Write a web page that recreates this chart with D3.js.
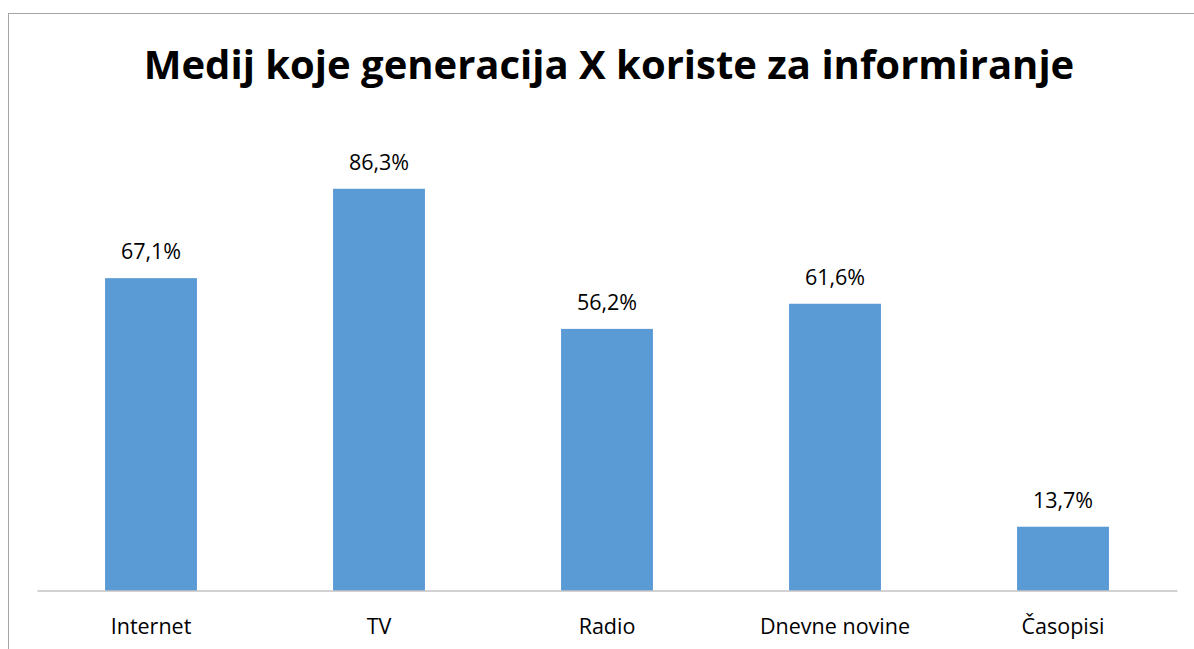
<!DOCTYPE html>
<html>
<head>
<meta charset="utf-8">
<script src="https://cdn.jsdelivr.net/npm/d3@7"></script>
<style>
  html, body { margin: 0; padding: 0; background: #fff; }
  svg { display: block; }
</style>
</head>
<body>
<script>
const categories = ["Internet", "TV", "Radio", "Dnevne novine", "Časopisi"];
const values = [67.1, 86.3, 56.2, 61.6, 13.7];
const valueLabels = ["67,1%", "86,3%", "56,2%", "61,6%", "13,7%"];
const titleText = "Medij koje generacija X koriste za informiranje";

const W = 1194, H = 649;
const svg = d3.select("body").append("svg").attr("width", W).attr("height", H);

// chart frame (clipped at right/bottom as in reference)
svg.append("rect")
  .attr("x", 8.5).attr("y", 13.5)
  .attr("width", 1220).attr("height", 700)
  .attr("fill", "none").attr("stroke", "#A6A6A6").attr("stroke-width", 1);

const plot = { left: 37, right: 1177, top: 125, bottom: 590.5 };

const x = d3.scaleBand().domain(categories).range([plot.left, plot.right]).paddingInner(0.597).paddingOuter(0.2985);
const y = d3.scaleLinear().domain([0, 100]).range([plot.bottom, plot.top]);

svg.append("text")
  .attr("x", 609).attr("y", 79)
  .attr("text-anchor", "middle")
  .attr("font-family", "'Open Sans', sans-serif")
  .attr("font-weight", "bold")
  .attr("font-size", 40)
  .attr("fill", "#000")
  .text(titleText);

svg.selectAll("rect.bar").data(values).enter().append("rect")
  .attr("class", "bar")
  .attr("x", (d, i) => x(categories[i]))
  .attr("width", x.bandwidth())
  .attr("y", d => y(d))
  .attr("height", d => y(0) - y(d))
  .attr("fill", "#5B9BD5");

svg.selectAll("text.val").data(values).enter().append("text")
  .attr("class", "val")
  .attr("x", (d, i) => x(categories[i]) + x.bandwidth() / 2)
  .attr("y", d => y(d) - 19)
  .attr("text-anchor", "middle")
  .attr("font-family", "'Open Sans', sans-serif")
  .attr("font-size", 21.5)
  .attr("fill", "#000")
  .text((d, i) => valueLabels[i]);

const axis = d3.axisBottom(x).tickSize(0).tickPadding(0);
const g = svg.append("g").attr("transform", `translate(0,${plot.bottom})`).call(axis);
g.select(".domain").attr("stroke", "#A6A6A6").attr("stroke-width", 1.2);
g.selectAll(".tick text")
  .attr("y", 43)
  .attr("dy", null)
  .attr("font-family", "'Open Sans', sans-serif")
  .attr("font-size", 21.5)
  .attr("fill", "#000");
</script>
</body>
</html>
